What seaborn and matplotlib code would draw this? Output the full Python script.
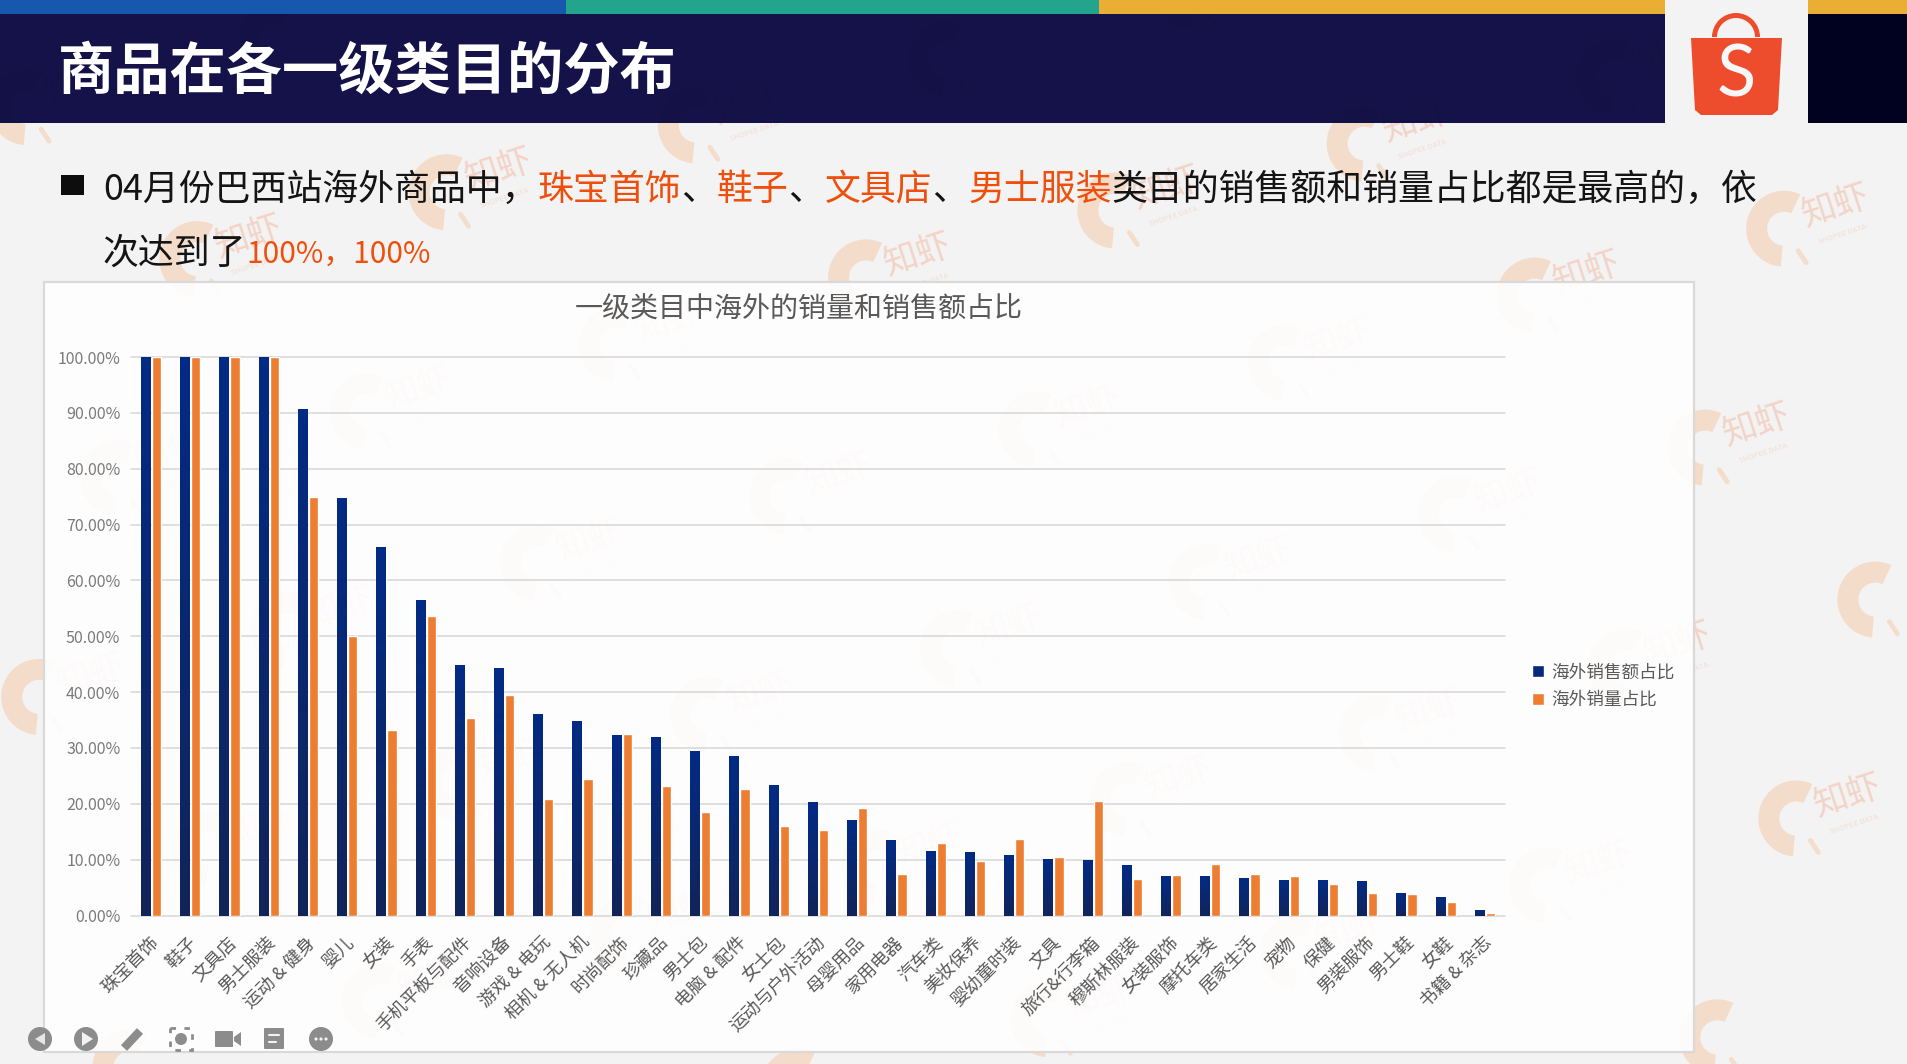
"""Shopee slide: overseas share of sales and volume per top-level category."""

import matplotlib.pyplot as plt
from matplotlib.colors import LinearSegmentedColormap
from matplotlib.patches import Circle, FancyBboxPatch, Polygon, Rectangle, Wedge
from matplotlib.transforms import ScaledTranslation
import numpy as np
import pandas as pd
import seaborn as sns

W, H = 1907, 1064

categories = [
    "珠宝首饰", "鞋子", "文具店", "男士服装", "运动 & 健身", "婴儿", "女装", "手表",
    "手机平板与配件", "音响设备", "游戏 & 电玩", "相机 & 无人机", "时尚配饰", "珍藏品",
    "男士包", "电脑 & 配件", "女士包", "运动与户外活动", "母婴用品", "家用电器", "汽车类",
    "美妆保养", "婴幼童时装", "文具", "旅行&行李箱", "穆斯林服装", "女装服饰", "摩托车类",
    "居家生活", "宠物", "保健", "男装服饰", "男士鞋", "女鞋", "书籍 & 杂志",
]
sales_share = [
    100, 100, 100, 100, 90.7, 74.8, 66.0, 56.5, 44.8, 44.3, 36.0, 34.8, 32.4, 31.9,
    29.4, 28.6, 23.4, 20.3, 17.1, 13.5, 11.5, 11.4, 10.8, 10.2, 9.9, 9.0, 7.0, 7.0,
    6.8, 6.3, 6.3, 6.1, 4.1, 3.4, 0.9,
]
volume_share = [
    100, 100, 100, 100, 75.0, 50.0, 33.3, 53.6, 35.3, 39.4, 20.8, 24.4, 32.5, 23.2,
    18.5, 22.7, 16.0, 15.3, 19.2, 7.5, 12.9, 9.7, 13.7, 10.4, 20.5, 6.5, 7.2, 9.3,
    7.5, 7.0, 5.6, 4.1, 3.8, 2.5, 0.5,
]
series_names = ["海外销售额占比", "海外销量占比"]
y_ticks = [0, 10, 20, 30, 40, 50, 60, 70, 80, 90, 100]

title = "商品在各一级类目的分布"
chart_title = "一级类目中海外的销量和销售额占比"
ORANGE_TEXT = "#ee4f0c"
BLACK_TEXT = "#141414"
BODY_SIZE = 25.85
line_one = [
    ("04月份巴西站海外商品中，", BLACK_TEXT, BODY_SIZE), ("珠宝首饰", ORANGE_TEXT, BODY_SIZE),
    ("、", BLACK_TEXT, BODY_SIZE), ("鞋子", ORANGE_TEXT, BODY_SIZE), ("、", BLACK_TEXT, BODY_SIZE),
    ("文具店", ORANGE_TEXT, BODY_SIZE), ("、", BLACK_TEXT, BODY_SIZE),
    ("男士服装", ORANGE_TEXT, BODY_SIZE), ("类目的销售额和销量占比都是最高的，依", BLACK_TEXT, BODY_SIZE),
]
line_two = [("次达到了", BLACK_TEXT, BODY_SIZE), ("100%，100%", ORANGE_TEXT, 21.5)]

sns.set_theme(style="white")
plt.rcParams["font.family"] = ["Noto Sans CJK SC", "DejaVu Sans"]

fig = plt.figure(figsize=(W / 100, H / 100), dpi=100, facecolor="#f3f3f3")

# backdrop axes works in reference pixels, y pointing down
bg = fig.add_axes([0, 0, 1, 1], zorder=0)
bg.set_xlim(0, W)
bg.set_ylim(H, 0)
bg.axis("off")


def draw_watermarks():
    shrimp = "#f3b27c"
    for i in range(-3, 12):
        for j in range(-3, 10):
            x = (1370 - 205 * i + 140 * j) * 1.216
            y = (45 + 55 * i + 125 * j) * 1.216
            if not (-120 < x < W + 120 and -80 < y < H + 80):
                continue
            bg.add_patch(Wedge((x - 52, y + 22), 38, 95, 295, width=21, color=shrimp,
                               alpha=0.34, lw=0, zorder=1))
            bg.plot([x - 38, x - 30], [y + 44, y + 56], color=shrimp, alpha=0.32, lw=3.5,
                    zorder=1)
            # marks whose text would run off the slide keep only the shrimp
            if 60 < x < W - 52 and 50 < y < H - 50:
                bg.text(x, y, "知虾", color="#f2b49a", alpha=0.5, fontsize=25, rotation=18,
                        ha="center", va="center", zorder=1)
                bg.text(x + 6, y + 28, "SHOPEE DATA", color="#f2b49a", alpha=0.35, fontsize=5.5,
                        rotation=18, ha="center", va="center", zorder=1)


def draw_runs(x, y, runs):
    renderer = fig.canvas.get_renderer()
    for text, color, size in runs:
        t = bg.text(x, y, text, color=color, fontsize=size, ha="left", va="center", zorder=5)
        x += t.get_window_extent(renderer).width


def draw_header():
    bg.add_patch(Rectangle((0, 14), W, 109, color="#08063f", alpha=0.95, lw=0, zorder=3))
    bg.add_patch(Rectangle((1808, 14), W - 1808, 109, color="#01021f", alpha=0.96, lw=0, zorder=3))
    for x0, x1, c in [(0, 566, "#1558ad"), (566, 1099, "#22a58c"), (1099, 1665, "#ebae35"),
                      (1808, W, "#ebae35")]:
        bg.add_patch(Rectangle((x0, 0), x1 - x0, 14, color=c, lw=0, zorder=3))
    bg.add_patch(Rectangle((1665, 0), 143, 123, color="#f3f3f3", lw=0, zorder=3))
    bg.text(58, 72, title, color="white", fontsize=40.5, fontweight="bold", ha="left",
            va="center", zorder=5)

    # shopee bag
    logo = "#ee4d2d"
    bg.add_patch(Wedge((1736, 37), 24, 180, 360, width=5, color=logo, lw=0, zorder=4))
    bg.add_patch(Polygon([(1691, 38), (1782, 38), (1778, 110), (1772, 115), (1701, 115), (1695, 110)],
                         closed=True, color=logo, lw=0, zorder=4))
    bg.text(1736, 76, "S", color="#f7f7f7", fontsize=52, family="Lato", ha="center",
            va="center", zorder=5)


def draw_toolbar():
    gray = "#8c8c8c"
    y = 1039
    for x in [40, 86, 321]:
        bg.add_patch(Circle((x, y), 12, color=gray, lw=0, zorder=4))
    bg.add_patch(Polygon([(45, y - 6), (35, y), (45, y + 6)], color="#e6e6e6", lw=0, zorder=5))
    bg.add_patch(Polygon([(82, y - 7), (93, y), (82, y + 7)], color="#f3f3f3", lw=0, zorder=5))
    bg.plot([124, 140], [y + 9, y - 8], color=gray, lw=6, solid_capstyle="butt", zorder=4)
    bg.add_patch(Circle((181, y), 6, color=gray, lw=0, zorder=4))
    bg.add_patch(Rectangle((170, y - 11), 22, 22, fill=False, ec=gray, lw=2, ls=(0, (2, 3)), zorder=4))
    bg.add_patch(FancyBboxPatch((216, y - 7), 16, 14, boxstyle="round,pad=1", color=gray, lw=0, zorder=4))
    bg.add_patch(Polygon([(234, y - 2), (241, y - 7), (241, y + 7), (234, y + 2)], color=gray, lw=0, zorder=4))
    bg.add_patch(FancyBboxPatch((265, y - 10), 18, 19, boxstyle="round,pad=1", color=gray, lw=0, zorder=4))
    bg.plot([269, 279], [y - 4, y - 4], color="#f3f3f3", lw=1.5, zorder=5)
    bg.plot([269, 276], [y + 3, y + 3], color="#f3f3f3", lw=1.5, zorder=5)
    for dx in (-5, 0, 5):
        bg.add_patch(Circle((321 + dx, y), 1.6, color="#f3f3f3", lw=0, zorder=5))


draw_watermarks()
# chart card sits over the watermark, which still shows faintly through it
bg.add_patch(Rectangle((44, 282), 1650, 770, fc="white", alpha=0.9, ec="none", zorder=2))
bg.add_patch(Rectangle((44, 282), 1650, 770, fill=False, ec="#d9d9d9", lw=1.6, zorder=2))
draw_header()
draw_toolbar()

bg.add_patch(Rectangle((61, 175), 23, 20, color="#0d0d0d", lw=0, zorder=5))
draw_runs(103, 190, line_one)
draw_runs(103, 254, line_two)
bg.text(799, 310, chart_title, color="#595959", fontsize=20.2, ha="center", va="center", zorder=5)

# the chart itself
ax = fig.add_axes([131.4 / W, 1 - 915.5 / H, 1373.2 / W, 558.5 / H], zorder=2)
ax.patch.set_alpha(0)

df = pd.DataFrame({
    "category": categories * 2,
    "share": sales_share + volume_share,
    "series": [series_names[0]] * len(categories) + [series_names[1]] * len(categories),
})
sns.barplot(data=df, x="category", y="share", hue="series", palette=["#06297a", "#ed7d31"],
            width=0.56, gap=0.16, saturation=1, ax=ax, zorder=3)

# navy bars fade darker towards the baseline
navy = LinearSegmentedColormap.from_list("navy", ["#11245a", "#022b85"])
grad = np.linspace(1, 0, 64).reshape(-1, 1)
for bar in ax.containers[0]:
    ax.imshow(grad, cmap=navy, aspect="auto", zorder=3.5,
              extent=(bar.get_x(), bar.get_x() + bar.get_width(), 0, bar.get_height()))

ax.set_xlim(-0.5, len(categories) - 0.5)
ax.set_ylim(0, 100)
ax.set_xlabel("")
ax.set_ylabel("")
ax.set_yticks(y_ticks)
ax.set_yticklabels([f"{v:.2f}%" for v in y_ticks], fontsize=11.5, color="#7a7a7a")
ax.tick_params(axis="y", length=0, pad=8)
ax.tick_params(axis="x", length=0, pad=13)
ax.set_xticks(range(len(categories)))
ax.set_xticklabels(categories, rotation=45, ha="right", rotation_mode="anchor",
                   fontsize=13, color="#595959")
nudge = ScaledTranslation(-2 / 100, 0, fig.dpi_scale_trans)
for label in ax.get_xticklabels():
    label.set_transform(label.get_transform() + nudge)
ax.grid(axis="y", color="#d9d9d9", lw=1.2, clip_on=False)
ax.set_axisbelow(True)
for line in ax.get_ygridlines():
    line.set_clip_on(False)
for side in ax.spines:
    ax.spines[side].set_visible(False)

ax.legend(loc="center left", bbox_to_anchor=(1532 / W, 1 - 686 / H), bbox_transform=fig.transFigure,
          frameon=False, fontsize=12.7, handlelength=0.7, handleheight=0.7, handletextpad=0.4,
          labelspacing=0.55, labelcolor="#595959", borderpad=0, borderaxespad=0)

fig.savefig("out.png", dpi=100)
